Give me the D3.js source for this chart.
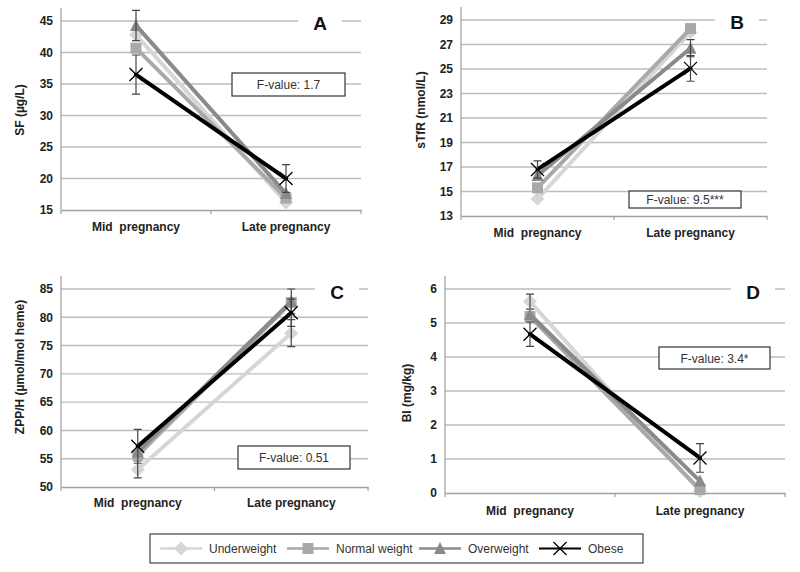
<!DOCTYPE html>
<html><head><meta charset="utf-8">
<script src="https://cdn.jsdelivr.net/npm/d3@7"></script>
<style>
body{margin:0;background:#fff;}
svg{display:block;font-family:"Liberation Sans",Arial,sans-serif;}
</style></head>
<body><svg id="c" width="800" height="572"></svg>
<script>
// ---------- data ----------
const categories = ["Mid  pregnancy", "Late pregnancy"];
const seriesNames = ["Underweight", "Normal weight", "Overweight", "Obese"];

// Panel A: SF (µg/L)
const sfUnder  = [42.8, 16.2];
const sfNormal = [40.7, 16.9];
const sfOver   = [44.3, 17.6];
const sfObese  = [36.5, 20.0];
const sfErrOver  = [2.4, 0];
const sfErrObese = [3.1, 2.2];
const sfTicks = [15, 20, 25, 30, 35, 40, 45];

// Panel B: sTfR (nmol/L)
const tfrUnder  = [14.4, 28.0];
const tfrNormal = [15.3, 28.3];
const tfrOver   = [16.3, 26.7];
const tfrObese  = [16.8, 25.05];
const tfrErrOver  = [0, 0.7];
const tfrErrObese = [0.7, 1.05];
const tfrTicks = [13, 15, 17, 19, 21, 23, 25, 27, 29];

// Panel C: ZPP/H (µmol/mol heme)
const zppUnder  = [53.1, 77.2];
const zppNormal = [55.6, 82.6];
const zppOver   = [56.2, 82.8];
const zppObese  = [57.2, 80.8];
const zppErrUnder = [1.5, 2.4];
const zppErrOver  = [0, 2.2];
const zppErrObese = [3.0, 2.4];
const zppTicks = [50, 55, 60, 65, 70, 75, 80, 85];

// Panel D: BI (mg/kg)
const biUnder  = [5.63, 0.05];
const biNormal = [5.19, 0.1];
const biOver   = [5.25, 0.35];
const biObese  = [4.67, 1.03];
const biErrUnder = [0.22, 0];
const biErrObese = [0.36, 0.42];
const biTicks = [0, 1, 2, 3, 4, 5, 6];

const fValues = ["F-value: 1.7", "F-value: 9.5***", "F-value: 0.51", "F-value: 3.4*"];
const panelLetters = ["A", "B", "C", "D"];
const yTitles = ["SF (µg/L)", "sTfR (nmol/L)", "ZPP/H (µmol/mol heme)", "BI (mg/kg)"];

// ---------- styles ----------
const seriesStyle = [
  {color:"#d6d6d6", marker:"diamond", w:4},
  {color:"#a9a9a9", marker:"square", w:4},
  {color:"#8a8a8a", marker:"triangle", w:4},
  {color:"#000000", marker:"x", w:4}
];

const panels = [
  {left:61, right:361, top:21, bottom:210, domain:[15,45], ticks:sfTicks,
   values:[sfUnder, sfNormal, sfOver, sfObese], errs:[null, null, sfErrOver, sfErrObese],
   catY:226, titleX:20, titleY:110, letterX:320, letterY:23,
   box:{x:232, y:73, w:113, h:23}},
  {left:461, right:767, top:20, bottom:216, domain:[13,29], ticks:tfrTicks,
   values:[tfrUnder, tfrNormal, tfrOver, tfrObese], errs:[null, null, tfrErrOver, tfrErrObese],
   catY:232, titleX:421, titleY:110, letterX:737, letterY:22,
   box:{x:629, y:191, w:112, h:17}},
  {left:61, right:368, top:289, bottom:487, domain:[50,85], ticks:zppTicks,
   values:[zppUnder, zppNormal, zppOver, zppObese], errs:[zppErrUnder, null, zppErrOver, zppErrObese],
   catY:502, titleX:20, titleY:367, letterX:337, letterY:292,
   box:{x:238, y:446, w:112, h:23}},
  {left:445, right:785, top:289, bottom:493, domain:[0,6], ticks:biTicks,
   values:[biUnder, biNormal, biOver, biObese], errs:[biErrUnder, null, null, biErrObese],
   catY:510, titleX:407, titleY:393, letterX:753, letterY:292,
   box:{x:659, y:347, w:111, h:22}}
];

const svg = d3.select("#c");

function drawMarker(g, type, x, y, color, size) {
  const s = size/2;
  let d;
  if (type === "x") {
    g.append("path").attr("d", `M${x-s},${y-s}L${x+s},${y+s}M${x-s},${y+s}L${x+s},${y-s}`)
      .attr("stroke", color).attr("stroke-width", 1.3).attr("fill","none");
    return;
  }
  if (type === "diamond") d = `M${x},${y-s-1}L${x+s+1},${y}L${x},${y+s+1}L${x-s-1},${y}Z`;
  else if (type === "square") d = `M${x-s+0.5},${y-s+0.5}H${x+s-0.5}V${y+s-0.5}H${x-s+0.5}Z`;
  else d = `M${x},${y-s-0.5}L${x+s},${y+s-0.5}L${x-s},${y+s-0.5}Z`;
  g.append("path").attr("d", d).attr("fill", color);
}

panels.forEach((p, pi) => {
  const g = svg.append("g");
  const x = d3.scaleBand().domain(categories).range([p.left, p.right]);
  const y = d3.scaleLinear().domain(p.domain).range([p.bottom, p.top]);

  // gridlines
  g.append("g").selectAll("line").data(p.ticks.slice(1)).join("line")
    .attr("x1", p.left).attr("x2", p.right)
    .attr("y1", d => y(d)).attr("y2", d => y(d))
    .attr("stroke", "#bcbcbc").attr("stroke-width", 1.4);

  // y axis
  const ya = g.append("g").attr("transform", `translate(${p.left},0)`)
    .call(d3.axisLeft(y).tickValues(p.ticks).tickFormat(d3.format("d")).tickSize(0).tickPadding(8));
  ya.select(".domain").remove();
  ya.selectAll("text").attr("font-size", 12).attr("font-weight", "bold").attr("fill", "#222")
    .attr("font-family", "Liberation Sans, Arial, sans-serif");
  g.append("line").attr("x1", p.left).attr("x2", p.left).attr("y1", p.top - 13).attr("y2", p.bottom)
    .attr("stroke", "#a0a0a0").attr("stroke-width", 1.2);

  // x axis
  const xa = g.append("g").attr("transform", `translate(0,${p.bottom})`)
    .call(d3.axisBottom(x).tickSize(0).tickPadding(p.catY - p.bottom - 4));
  xa.select(".domain").attr("stroke", "#a0a0a0").attr("stroke-width", 1.4);
  xa.selectAll("text").attr("font-size", 12).attr("font-weight", "bold").attr("fill", "#222")
    .attr("font-family", "Liberation Sans, Arial, sans-serif").style("white-space", "pre");
  [p.left, (p.left+p.right)/2, p.right].forEach(tx => {
    g.append("line").attr("x1", tx).attr("x2", tx).attr("y1", p.bottom).attr("y2", p.bottom + 4)
      .attr("stroke", "#a0a0a0").attr("stroke-width", 1.2);
  });

  // y title
  g.append("text").attr("transform", `translate(${p.titleX},${p.titleY}) rotate(-90)`)
    .attr("text-anchor", "middle").attr("dominant-baseline", "central")
    .attr("font-size", 12).attr("font-weight", "bold").attr("fill", "#222")
    .text(yTitles[pi]);

  // panel letter with white background
  g.append("rect").attr("x", p.letterX - 22).attr("y", p.letterY - 12).attr("width", 44).attr("height", 24).attr("fill", "#fff");
  g.append("text").attr("x", p.letterX).attr("y", p.letterY).attr("text-anchor", "middle")
    .attr("dominant-baseline", "central").attr("font-size", 19).attr("font-weight", "bold").attr("fill", "#111")
    .text(panelLetters[pi]);

  // series
  p.values.forEach((vals, si) => {
    const st = seriesStyle[si];
    const line = d3.line().x((d, i) => x(categories[i]) + x.bandwidth()/2).y(d => y(d));
    g.append("path").datum(vals).attr("d", line).attr("fill", "none")
      .attr("stroke", st.color).attr("stroke-width", st.w).attr("stroke-linecap", "round");
    const err = p.errs[si];
    vals.forEach((v, i) => {
      const cx = x(categories[i]) + x.bandwidth()/2;
      if (st.marker !== "x") drawMarker(g, st.marker, cx, y(v), st.color, 12);
      if (err && err[i] > 0) {
        const e = err[i];
        g.append("path").attr("d",
          `M${cx},${y(v-e)}L${cx},${y(v+e)}M${cx-4},${y(v-e)}L${cx+4},${y(v-e)}M${cx-4},${y(v+e)}L${cx+4},${y(v+e)}`)
          .attr("stroke", "#444").attr("stroke-width", 1.2).attr("fill", "none");
      }
      if (st.marker === "x") drawMarker(g, "x", cx, y(v), st.color, 13);
    });
  });

  // F-value box
  g.append("rect").attr("x", p.box.x).attr("y", p.box.y).attr("width", p.box.w).attr("height", p.box.h)
    .attr("fill", "#fff").attr("stroke", "#333").attr("stroke-width", 1.2);
  g.append("text").attr("x", p.box.x + p.box.w/2).attr("y", p.box.y + p.box.h/2 + 0.5)
    .attr("text-anchor", "middle").attr("dominant-baseline", "central")
    .attr("font-size", 12).attr("fill", "#333").text(fValues[pi]);
});

// legend
const lg = svg.append("g");
lg.append("rect").attr("x", 150).attr("y", 534).attr("width", 493).attr("height", 29)
  .attr("fill", "#fff").attr("stroke", "#444").attr("stroke-width", 1.2);
const legendX = [160, 287, 419, 539];
seriesNames.forEach((name, si) => {
  const st = seriesStyle[si];
  const x0 = legendX[si], yy = 548.5;
  lg.append("line").attr("x1", x0).attr("x2", x0 + 42).attr("y1", yy).attr("y2", yy)
    .attr("stroke", st.color).attr("stroke-width", si === 3 ? 2 : 2.5);
  drawMarker(lg, st.marker, x0 + 21, yy, st.color, st.marker === "x" ? 13 : 12);
  lg.append("text").attr("x", x0 + 49).attr("y", yy).attr("dominant-baseline", "central")
    .attr("font-size", 12).attr("fill", "#333").text(name);
});
</script>
</body></html>
